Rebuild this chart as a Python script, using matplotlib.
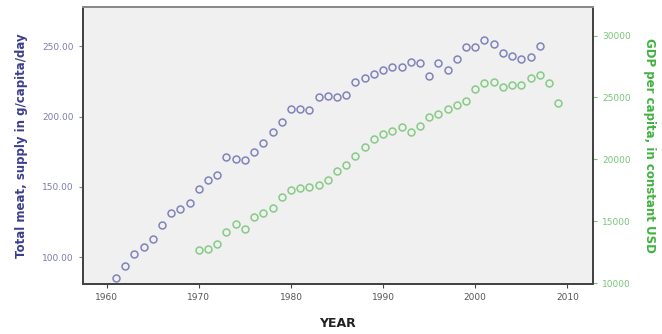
import matplotlib.pyplot as plt

# data
meat_years = list(range(1961, 2008))
meat_supply = [85.5, 94, 102.6, 107.6, 113.3, 123.2, 131.1, 134.6, 138.9, 148.8,
               155.2, 158.8, 171.6, 170.2, 169.4, 175.1, 181.5, 189.3, 196.4, 205.7,
               205.7, 205.0, 214.2, 215.0, 214.2, 215.6, 224.9, 227.7, 230.6, 233.4,
               235.6, 235.6, 239.1, 238.4, 229.2, 238.4, 233.4, 241.3, 249.8, 249.8,
               254.8, 251.9, 245.5, 243.4, 241.3, 242.7, 250.5]

gdp_years = list(range(1970, 2010))
gdp_per_capita = [12700, 12780, 13180, 14130, 14760, 14370, 15320, 15710, 16110, 16980,
                  17540, 17700, 17780, 17940, 18330, 19050, 19520, 20240, 21030, 21670,
                  22060, 22300, 22620, 22220, 22700, 23410, 23650, 24050, 24370, 24680,
                  25710, 26190, 26270, 25870, 26030, 26030, 26590, 26830, 26190, 24520]

x_ticks = [1960, 1970, 1980, 1990, 2000, 2010]
left_ticks = [100, 150, 200, 250]
right_ticks = [10000, 15000, 20000, 25000, 30000]

blue = "#8083bb"
green = "#86cb86"

fig = plt.figure(figsize=(6.62, 3.34), dpi=100)
ax1 = fig.add_axes([0.125, 0.15, 0.771, 0.829])
ax1.set_facecolor("#f0f0f0")
ax2 = ax1.twinx()

ax1.plot(meat_years, meat_supply, linestyle="none", marker="o", markersize=5,
         markerfacecolor="none", markeredgecolor=blue, markeredgewidth=1.1)
ax2.plot(gdp_years, gdp_per_capita, linestyle="none", marker="o", markersize=5,
         markerfacecolor="none", markeredgecolor=green, markeredgewidth=1.1)

ax1.set_xlim(1957.4, 2012.8)
ax1.set_ylim(81, 278)
ax2.set_ylim(9950, 32300)

ax1.set_xticks(x_ticks)
ax1.set_yticks(left_ticks)
ax1.set_yticklabels([f"{v:.2f}" for v in left_ticks])
ax2.set_yticks(right_ticks)

ax1.tick_params(axis="x", labelsize=6.5, labelcolor="#555555", length=3, color="#444444")
ax1.tick_params(axis="y", labelsize=6.5, labelcolor="#7a7dae", length=3, color="#7a7dae")
ax2.tick_params(axis="y", labelsize=6.5, labelcolor="#78c578", length=3, color="#78c578")

for ax in (ax1, ax2):
    for s in ("left", "bottom", "right"):
        ax.spines[s].set_color("#444444")
        ax.spines[s].set_linewidth(1.4)
    ax.spines["top"].set_color("#8a8a8a")
    ax.spines["top"].set_linewidth(1.4)

ax1.set_xlabel("YEAR", fontsize=9, fontweight="bold", color="#222222", labelpad=11)
ax1.set_ylabel("Total meat, supply in g/capita/day", fontsize=8.5, fontweight="bold",
               color="#3b3d8f", labelpad=10)
ax2.set_ylabel("GDP per capita, in constant USD", fontsize=8.5, fontweight="bold",
               color="#3fb23f", rotation=270, labelpad=18)

plt.savefig("out.png", dpi=100)
